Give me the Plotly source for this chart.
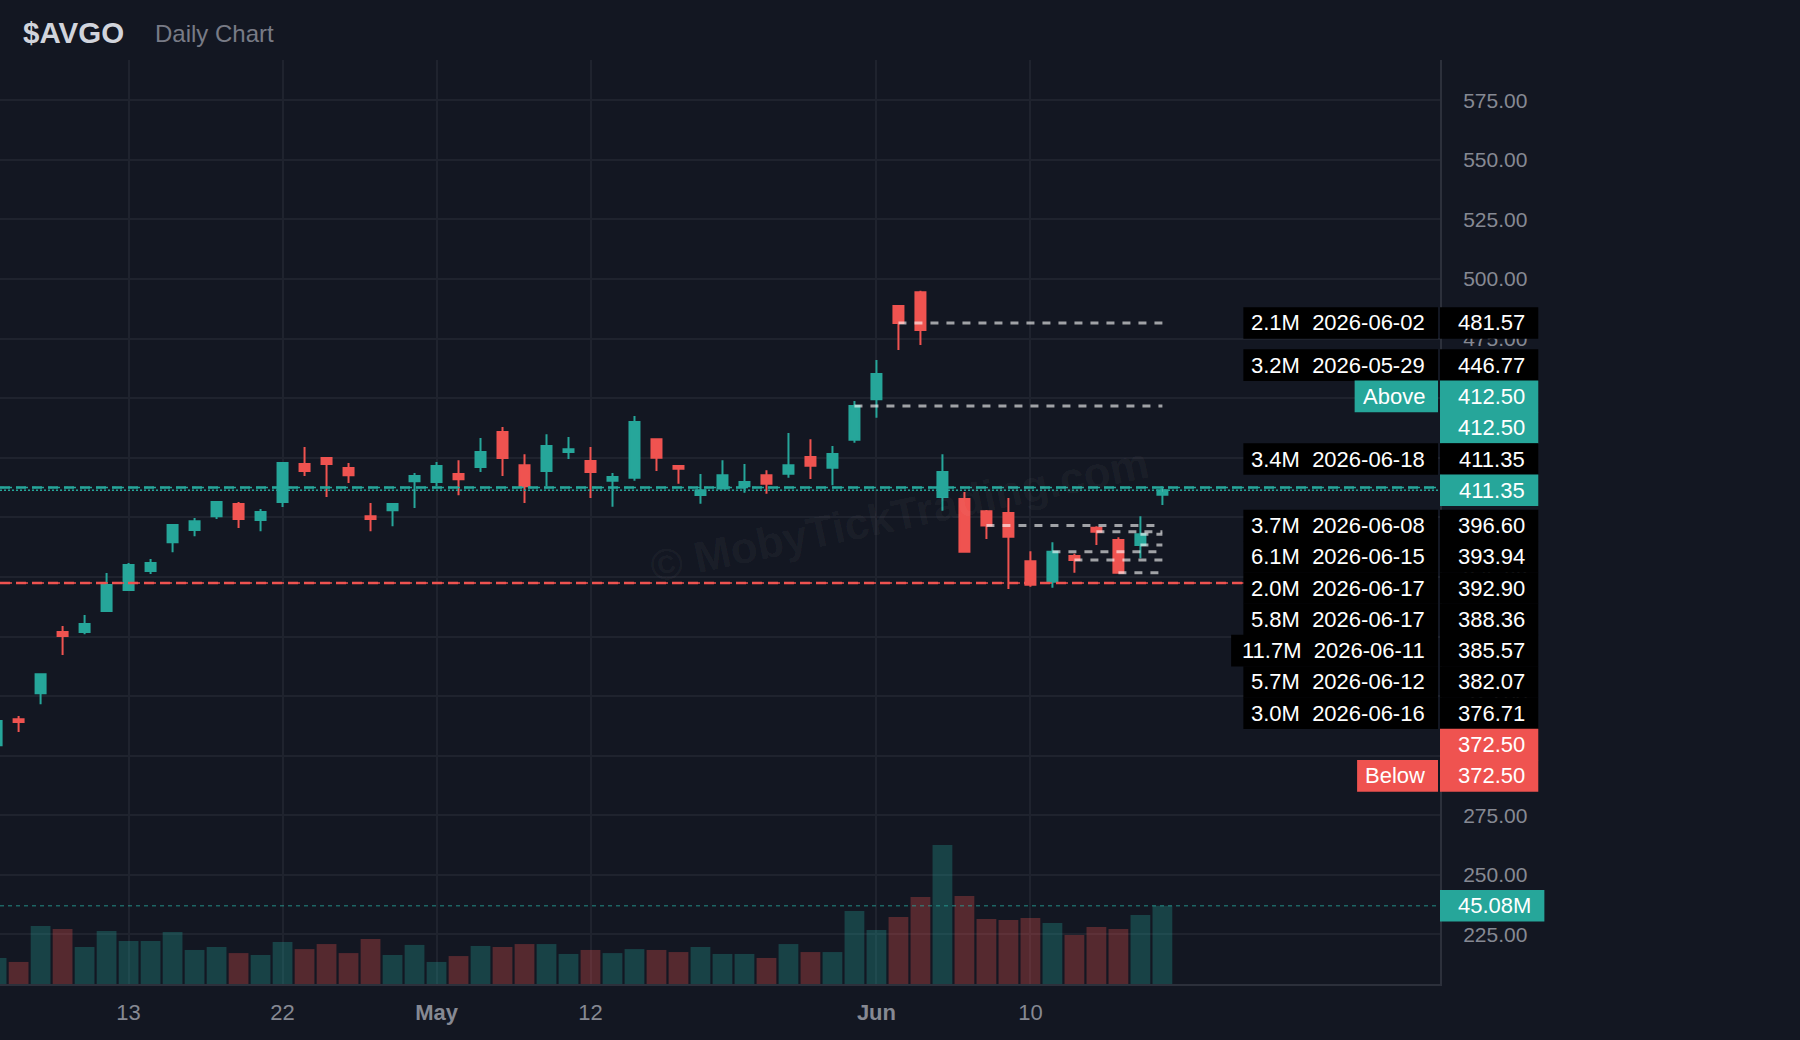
import plotly.graph_objects as go

# ---------------- data ----------------
dates = [
    "2026-04-02", "2026-04-06", "2026-04-07", "2026-04-08", "2026-04-09", "2026-04-10",
    "2026-04-13", "2026-04-14", "2026-04-15", "2026-04-16", "2026-04-17",
    "2026-04-20", "2026-04-21", "2026-04-22", "2026-04-23", "2026-04-24",
    "2026-04-27", "2026-04-28", "2026-04-29", "2026-04-30", "2026-05-01",
    "2026-05-04", "2026-05-05", "2026-05-06", "2026-05-07", "2026-05-08",
    "2026-05-11", "2026-05-12", "2026-05-13", "2026-05-14", "2026-05-15",
    "2026-05-18", "2026-05-19", "2026-05-20", "2026-05-21", "2026-05-22",
    "2026-05-26", "2026-05-27", "2026-05-28", "2026-05-29",
    "2026-06-01", "2026-06-02", "2026-06-03", "2026-06-04", "2026-06-05",
    "2026-06-08", "2026-06-09", "2026-06-10", "2026-06-11", "2026-06-12",
    "2026-06-15", "2026-06-16", "2026-06-17", "2026-06-18",
]
open_ = [
    304.4, 315.3, 326.2, 351.9, 351.9, 360.7,
    369.5, 377.5, 389.6, 394.7, 400.5,
    405.6, 398.9, 406.4, 422.4, 424.9,
    420.7, 400.5, 403.0, 415.2, 414.8,
    418.2, 421.1, 435.8, 421.9, 419.4,
    427.4, 423.6, 415.4, 416.6, 432.8,
    421.5, 409.4, 412.1, 413.1, 417.7,
    418.3, 425.3, 420.8, 432.6,
    449.6, 488.7, 494.5, 408.5, 407.7,
    402.6, 401.8, 381.6, 373.0, 383.75,
    395.6, 390.5, 388.36, 409.5,
]
high = [
    316.0, 316.6, 334.2, 354.4, 359.0, 376.6,
    380.8, 382.5, 397.2, 399.7, 406.8,
    406.4, 403.5, 423.2, 429.5, 425.0,
    422.8, 406.0, 405.8, 418.6, 423.2,
    424.0, 433.3, 437.9, 426.5, 434.9,
    433.7, 429.5, 418.6, 442.5, 433.0,
    421.9, 418.2, 424.0, 422.4, 419.8,
    435.4, 432.8, 429.9, 448.8,
    466.0, 488.9, 495.1, 426.5, 410.6,
    403.1, 408.1, 385.8, 389.6, 384.7,
    396.3, 391.7, 400.5, 413.1,
]
low = [
    303.0, 309.9, 321.6, 342.2, 351.0, 360.7,
    369.1, 376.2, 385.4, 392.1, 399.3,
    395.5, 394.2, 404.3, 417.3, 408.5,
    414.4, 394.2, 396.3, 403.9, 413.1,
    409.3, 419.0, 417.3, 406.0, 413.1,
    424.5, 408.1, 404.5, 415.4, 419.4,
    414.1, 405.7, 412.1, 410.3, 409.9,
    416.6, 416.1, 413.5, 431.3,
    441.8, 470.2, 472.3, 402.8, 385.6,
    390.9, 369.9, 370.9, 370.5, 376.8,
    388.4, 376.3, 382.8, 405.2,
]
close = [
    314.5, 314.1, 334.2, 350.2, 355.2, 371.6,
    380.0, 380.8, 396.8, 398.4, 406.4,
    399.3, 402.2, 422.8, 419.4, 422.4,
    417.7, 399.3, 405.6, 417.3, 421.5,
    416.0, 427.4, 424.9, 413.1, 429.9,
    428.6, 419.0, 416.9, 440.0, 425.0,
    420.4, 411.4, 417.7, 414.8, 414.1,
    421.9, 421.7, 426.6, 446.77,
    460.1, 481.57, 478.6, 419.0, 385.6,
    396.60, 391.9, 371.7, 385.57, 382.07,
    393.94, 376.71, 392.90, 411.35,
]
volume_m = [
    15.0, 12.7, 33.4, 31.7, 21.3, 30.5,
    24.8, 24.8, 29.9, 19.6, 21.3,
    17.8, 16.7, 24.2, 20.1, 23.0,
    17.8, 25.9, 16.7, 22.5, 12.7,
    16.1, 21.9, 21.3, 23.0, 23.0,
    17.3, 19.6, 17.8, 20.1, 19.6,
    18.4, 21.3, 17.3, 17.3, 15.0,
    23.0, 18.4, 18.4, 42.0,
    31.1, 38.6, 50.1, 80.0, 50.7,
    37.4, 36.8, 38.0, 35.1, 28.2,
    32.8, 31.7, 39.7, 45.08,
]

x_tick_dates = ["2026-04-13", "2026-04-22", "2026-05-01", "2026-05-12", "2026-06-01", "2026-06-10"]
x_tick_labels = ["13", "22", "<b>May</b>", "12", "<b>Jun</b>", "10"]
holidays = ["2026-04-03", "2026-05-25"]

marker_volumes = ["2.1M", "3.2M", "3.4M", "3.7M", "6.1M", "2.0M", "5.8M", "11.7M", "5.7M", "3.0M"]
marker_dates = ["2026-06-02", "2026-05-29", "2026-06-18", "2026-06-08", "2026-06-15",
                "2026-06-17", "2026-06-17", "2026-06-11", "2026-06-12", "2026-06-16"]
marker_prices = [481.57, 446.77, 411.35, 396.60, 393.94, 392.90, 388.36, 385.57, 382.07, 376.71]

alert_above = 412.50
alert_below = 372.50
last_price = close[-1]
last_volume = volume_m[-1]

ticker = "$AVGO"
subtitle = "Daily Chart"
watermark = "© MobyTickTrading.com"

# ---------------- style / layout ----------------
W, H = 1800, 1040
M_L, M_R, M_T, M_B = 0, 360, 60, 56
PLOT_W = W - M_L - M_R
PLOT_H = H - M_T - M_B
Y_MIN, Y_MAX = 204.2, 591.9
Y_STEP = 25
VOL_MAX = 532.0
X_RANGE = ["2026-04-02 15:43", "2026-07-07 02:53"]

UP = "#26a69a"
DOWN = "#ef5350"
UP_VOL = "rgba(38,166,154,0.30)"
DOWN_VOL = "rgba(239,83,80,0.30)"
BG = "#131722"
GRID = "#1f232e"
AXIS_LINE = "#2c303b"
AXIS_TXT = "#868993"
FONT = "Liberation Sans, Arial, sans-serif"
LBL_SIZE = 22

DAY_MS = 86400000
x_mid = [d + " 12:00" for d in dates]

fig = go.Figure()

vol_colors = [UP_VOL if c >= o else DOWN_VOL for o, c in zip(open_, close)]
fig.add_trace(go.Bar(
    x=x_mid, y=volume_m, yaxis="y2", width=0.9 * DAY_MS,
    marker=dict(color=vol_colors, line=dict(width=0)),
    hoverinfo="skip", showlegend=False,
))

fig.add_trace(go.Candlestick(
    x=x_mid, open=open_, high=high, low=low, close=close,
    increasing=dict(line=dict(color=UP, width=2), fillcolor=UP),
    decreasing=dict(line=dict(color=DOWN, width=2), fillcolor=DOWN),
    whiskerwidth=0, hoverinfo="skip", showlegend=False,
))

shapes = []
annotations = []

# level lines from the marker candles to the last candle
for d, p in zip(marker_dates, marker_prices):
    shapes.append(dict(type="line", xref="x", yref="y", x0=d + " 12:00", x1=x_mid[-1], y0=p, y1=p,
                       line=dict(color="rgba(255,255,255,0.6)", width=3, dash="8px,8px"), layer="above"))


def hline(y, color, width, dash, yref="y"):
    shapes.append(dict(type="line", xref="paper", yref=yref, x0=0, x1=1, y0=y, y1=y,
                       line=dict(color=color, width=width, dash=dash), layer="above"))


hline(alert_above, UP, 2.5, "10px,6px")
hline(alert_above, UP, 1.5, "4px,4px")
hline(last_price, UP, 1.5, "2px,2px")
hline(alert_below, DOWN, 2.5, "10px,6px")
hline(alert_below, DOWN, 1.5, "4px,4px")
hline(last_volume, "rgba(38,166,154,0.55)", 1.5, "4px,4px", yref="y2")

# ---------------- right-side labels ----------------
CW = {'.': 0.278, '-': 0.333, 'M': 0.833, ' ': 0.278, '\u00a0': 0.278, 'A': 0.667, 'b': 0.556,
      'o': 0.556, 'v': 0.5, 'e': 0.556, 'B': 0.667, 'l': 0.222, 'w': 0.722}


def text_w(s, size=LBL_SIZE):
    return sum(CW.get(c, 0.556) for c in s) * size


def px_x(px):
    return px / PLOT_W


px_per_unit = PLOT_H / (Y_MAX - Y_MIN)


def price_to_py(p):
    return M_T + (Y_MAX - p) * px_per_unit


BOX_H = 31.6
gap = 31.3 / px_per_unit

labels = []
for v, d, p in zip(marker_volumes, marker_dates, marker_prices):
    labels.append(dict(price=p, rank=2, tag=f"{v}\u00a0\u00a0{d}", tag_bg="#000000", box_bg="#000000"))
labels.append(dict(price=alert_above, rank=0, tag="Above", tag_bg=UP, box_bg=UP))
labels.append(dict(price=alert_above, rank=1, tag=None, box_bg=UP))
labels.append(dict(price=last_price, rank=3, tag=None, box_bg=UP, anchor=True))
labels.append(dict(price=alert_below, rank=4, tag=None, box_bg=DOWN))
labels.append(dict(price=alert_below, rank=5, tag="Below", tag_bg=DOWN, box_bg=DOWN))
labels.sort(key=lambda L: (-L["price"], L["rank"]))

ai = next(i for i, L in enumerate(labels) if L.get("anchor"))
pos = [L["price"] for L in labels]
for i in range(ai - 1, -1, -1):
    pos[i] = max(pos[i], pos[i + 1] + gap)
for i in range(ai + 1, len(labels)):
    pos[i] = min(pos[i], pos[i - 1] - gap)

AX_PX = PLOT_W
TAG_RIGHT_TXT = AX_PX - 13
TAG_RIGHT_BOX = AX_PX - 2
box_centers_py = []


def price_box(yc, text, bg):
    bw = max(97, text_w(text) + 31)
    shapes.append(dict(type="rect", xref="paper", yref="paper",
                       x0=px_x(AX_PX), x1=px_x(AX_PX + bw),
                       y0=yc - BOX_H / 2 / PLOT_H, y1=yc + BOX_H / 2 / PLOT_H,
                       fillcolor=bg, line=dict(width=0), layer="above"))
    annotations.append(dict(xref="paper", yref="paper", x=px_x(AX_PX + bw - 11), y=yc,
                            xanchor="right", yanchor="middle", text=text, showarrow=False,
                            font=dict(family=FONT, size=LBL_SIZE, color="#ffffff")))
    box_centers_py.append(M_T + (1 - yc) * PLOT_H)


for L, p in zip(labels, pos):
    yc = (p - Y_MIN) / (Y_MAX - Y_MIN)
    price_box(yc, f"{L['price']:.2f}", L["box_bg"])
    if L["tag"]:
        tw = text_w(L["tag"])
        shapes.append(dict(type="rect", xref="paper", yref="paper",
                           x0=px_x(TAG_RIGHT_TXT - tw - 10), x1=px_x(TAG_RIGHT_BOX),
                           y0=yc - BOX_H / 2 / PLOT_H, y1=yc + BOX_H / 2 / PLOT_H,
                           fillcolor=L["tag_bg"], line=dict(width=0), layer="above"))
        annotations.append(dict(xref="paper", yref="paper", x=px_x(TAG_RIGHT_TXT), y=yc,
                                xanchor="right", yanchor="middle", text=L["tag"], showarrow=False,
                                font=dict(family=FONT, size=LBL_SIZE, color="#ffffff")))

# volume label
price_box(last_volume / VOL_MAX, f"{last_volume:.2f}M", UP)

# y ticks: every 25; labels hidden where a price box fully covers them
y_tickvals = []
y_ticktext = []
t = Y_STEP * int(Y_MIN // Y_STEP + 1)
while t <= Y_MAX:
    ty = price_to_py(t)
    covered = any(abs(ty - by) <= BOX_H / 2 - 5 for by in box_centers_py)
    y_tickvals.append(t)
    y_ticktext.append("" if covered else f"{t:.2f}")
    t += Y_STEP


# title
def py_paper(py):
    return (H - M_B - py) / PLOT_H


annotations.append(dict(xref="paper", yref="paper", x=px_x(21), y=py_paper(32.5), xanchor="left",
                        yanchor="middle", text=f"<b>{ticker}</b>", showarrow=False,
                        font=dict(family=FONT, size=29.5, color="#d1d4dc")))
annotations.append(dict(xref="paper", yref="paper", x=px_x(153), y=py_paper(33.5), xanchor="left",
                        yanchor="middle", text=subtitle, showarrow=False,
                        font=dict(family=FONT, size=24, color="#787b86")))

# watermark
annotations.append(dict(xref="paper", yref="paper", x=px_x(899), y=py_paper(514), xanchor="center",
                        yanchor="middle", text=f"<b>{watermark}</b>", showarrow=False, textangle=-12,
                        font=dict(family=FONT, size=44, color="rgba(255,255,255,0.045)")))

fig.update_layout(
    width=W, height=H,
    margin=dict(l=M_L, r=M_R, t=M_T, b=M_B, pad=0),
    paper_bgcolor=BG, plot_bgcolor=BG,
    showlegend=False, hovermode=False,
    boxgap=0.35,
    font=dict(family=FONT, color=AXIS_TXT),
    xaxis=dict(
        type="date", range=X_RANGE,
        rangebreaks=[dict(bounds=["sat", "mon"]), dict(values=holidays)],
        rangeslider=dict(visible=False),
        tickmode="array", tickvals=[d + " 12:00" for d in x_tick_dates], ticktext=x_tick_labels,
        tickfont=dict(family=FONT, size=22, color=AXIS_TXT),
        ticks="", ticklabelstandoff=8,
        showgrid=True, gridcolor=GRID, gridwidth=2,
        showline=True, linecolor=AXIS_LINE, linewidth=2,
        zeroline=False, fixedrange=True,
    ),
    yaxis=dict(
        side="right", range=[Y_MIN, Y_MAX],
        tickmode="array", tickvals=y_tickvals, ticktext=y_ticktext,
        tickfont=dict(family=FONT, size=21, color=AXIS_TXT),
        ticks="", ticklabelstandoff=17,
        showgrid=True, gridcolor=GRID, gridwidth=2,
        showline=True, linecolor=AXIS_LINE, linewidth=2,
        zeroline=False, fixedrange=True,
    ),
    yaxis2=dict(overlaying="y", range=[0, VOL_MAX], visible=False, fixedrange=True),
    shapes=shapes,
    annotations=annotations,
)

fig.write_html("out.html")
